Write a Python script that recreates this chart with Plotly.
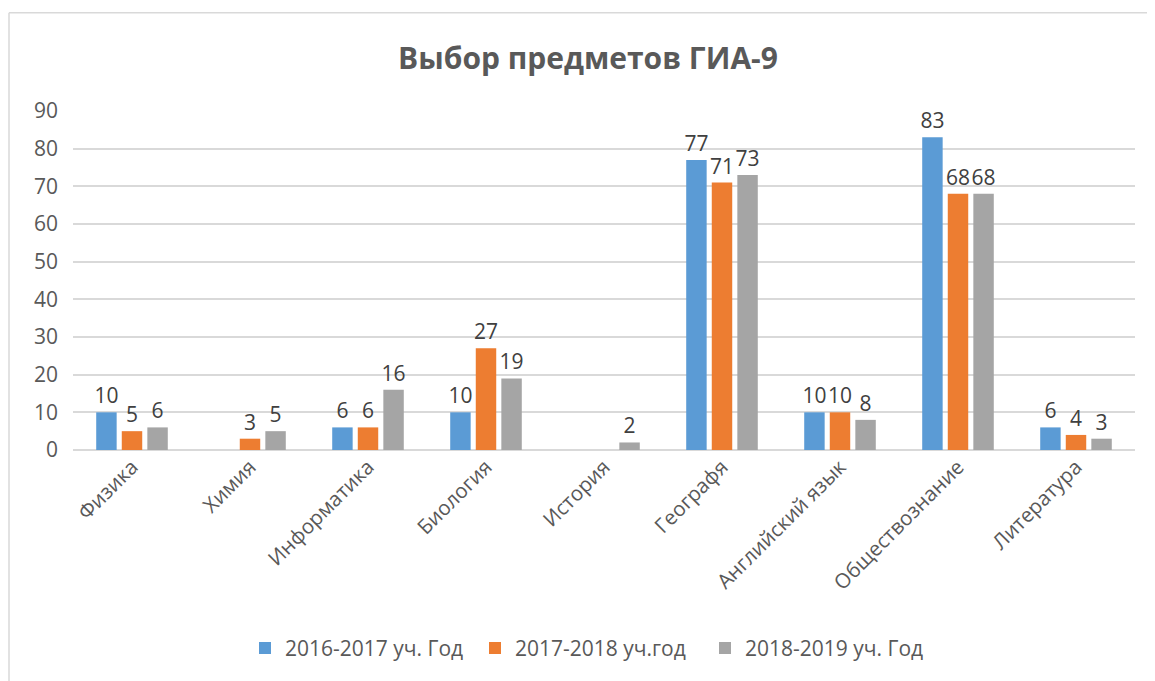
import plotly.graph_objects as go

categories = ["Физика", "Химия", "Информатика", "Биология", "История",
              "Географя", "Английский язык", "Обществознание", "Литература"]
series_names = ["2016-2017 уч. Год", "2017-2018 уч.год", "2018-2019 уч. Год"]
values_2016 = [10, None, 6, 10, None, 77, 10, 83, 6]
values_2017 = [5, 3, 6, 27, None, 71, 10, 68, 4]
values_2018 = [6, 5, 16, 19, 2, 73, 8, 68, 3]
colors = ["#5B9BD5", "#ED7D31", "#A5A5A5"]
y_ticks = [0, 10, 20, 30, 40, 50, 60, 70, 80, 90]

FONT = "Open Sans"
fig = go.Figure()
for name, vals, col in zip(series_names, [values_2016, values_2017, values_2018], colors):
    fig.add_trace(go.Bar(
        x=categories, y=vals, name=name,
        marker=dict(color=col, line=dict(width=0)),
        text=[("" if v is None else str(v)) for v in vals],
        textposition="outside", cliponaxis=False, constraintext="none",
        textfont=dict(family=FONT, size=21, color="#404040"),
    ))

# page offset of 8px (body margin)
OFF = 8
W, H = 1155 - OFF, 681 - OFF
L, R, T = 73 - OFF, 20, 111 - OFF
B = H - (453 - OFF)
pw, ph = W - L - R, H - T - B
def px_x(x): return (x - OFF - L) / pw
def px_y(y): return (H - B - (y - OFF)) / ph

fig.update_layout(
    width=W, height=H,
    margin=dict(l=L, r=R, t=T, b=B),
    paper_bgcolor="white", plot_bgcolor="white",
    barmode="group", bargap=0.35, bargroupgap=0.2,
    title=dict(text="<b>Выбор предметов ГИА-9</b>", x=px_x(588), xanchor="center",
               xref="paper",
               y=1 - (58 - OFF) / H, yanchor="middle",
               font=dict(family=FONT, size=30, color="#595959")),
    font=dict(family=FONT, color="#595959"),
    xaxis=dict(tickangle=-45, tickfont=dict(family=FONT, size=20.5, color="#595959"),
               showgrid=False, showline=False, ticks=""),
    yaxis=dict(range=[0, 90], tickvals=y_ticks, showgrid=True, gridcolor="#D9D9D9",
               gridwidth=1.5, zeroline=True, zerolinecolor="#D9D9D9", zerolinewidth=1.5,
               tickfont=dict(family=FONT, size=21, color="#595959"), ticks="",
               ticklabelstandoff=14),
    legend=dict(orientation="h", x=px_x(245), xanchor="left", y=px_y(653), yanchor="middle",
                font=dict(family=FONT, size=21, color="#595959"),
                itemwidth=30, entrywidth=185, entrywidthmode="pixels"),
    showlegend=True,
    shapes=[
        dict(type="line", xref="paper", yref="paper", x0=px_x(9), x1=px_x(1170),
             y0=px_y(12), y1=px_y(12), line=dict(color="#D9D9D9", width=1.5)),
        dict(type="line", xref="paper", yref="paper", x0=px_x(9), x1=px_x(9),
             y0=px_y(12), y1=px_y(700), line=dict(color="#D9D9D9", width=1.5)),
    ],
)
fig.write_html("out.html")
